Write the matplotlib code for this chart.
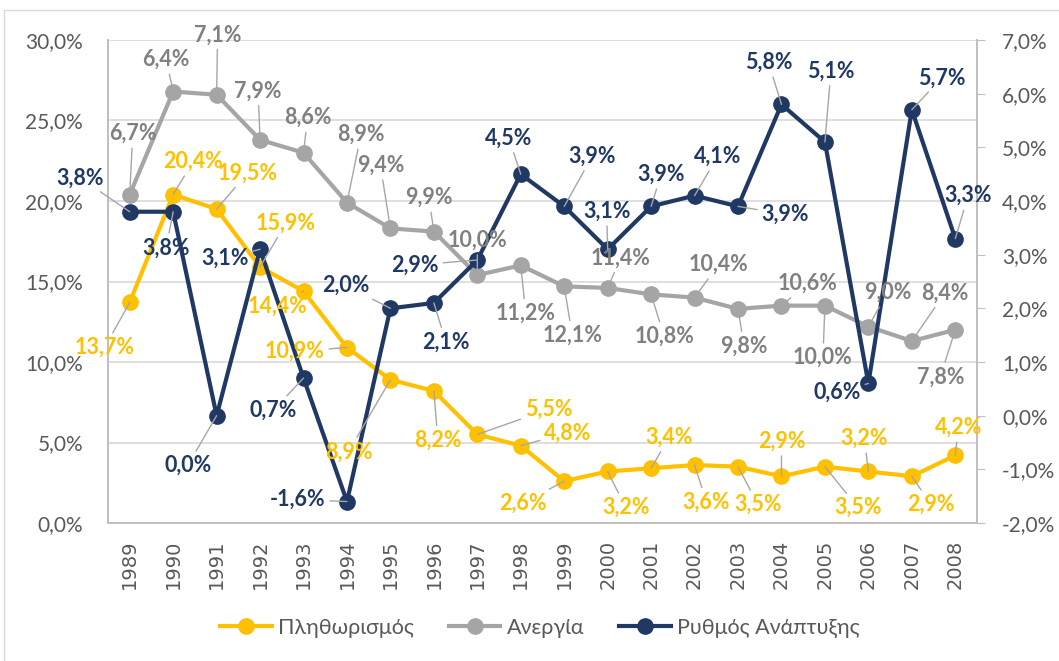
import matplotlib
matplotlib.use('Agg')
import matplotlib.pyplot as plt
from matplotlib.ticker import FuncFormatter, MultipleLocator
from matplotlib.lines import Line2D
from matplotlib.patches import Rectangle

years = [str(y) for y in range(1989, 2009)]
inflation = [13.7, 20.4, 19.5, 15.9, 14.4, 10.9, 8.9, 8.2, 5.5, 4.8,
             2.6, 3.2, 3.4, 3.6, 3.5, 2.9, 3.5, 3.2, 2.9, 4.2]
unemployment = [20.4, 26.8, 26.6, 23.8, 23.0, 19.9, 18.3, 18.1, 15.4, 16.0,
                14.7, 14.6, 14.2, 14.0, 13.3, 13.5, 13.5, 12.2, 11.3, 12.0]
unemployment_labels = ['6,7%', '6,4%', '7,1%', '7,9%', '8,6%', '8,9%', '9,4%', '9,9%',
                       '10,0%', '11,2%', '12,1%', '11,4%', '10,8%', '10,4%', '9,8%',
                       '10,6%', '10,0%', '9,0%', '8,4%', '7,8%']
growth = [3.8, 3.8, 0.0, 3.1, 0.7, -1.6, 2.0, 2.1, 2.9, 4.5,
          3.9, 3.1, 3.9, 4.1, 3.9, 5.8, 5.1, 0.6, 5.7, 3.3]

# label offsets in pixels (dx, dy up) relative to the point
off_unemp = [(3, 61), (-7, 32), (1, 60), (-2, 49), (4, 35), (14, 68), (-10, 63), (-5, 34),
             (0, 35), (5, -48), (8, -49), (13, 30), (13, -42), (24, 33), (6, -37),
             (26, 22), (-2, -52), (19, 34), (33, 48), (-15, -47)]
off_infl = [(-25, -45), (20, 33), (31, 36), (26, 44), (-26, -15), (-52, -4), (-42, -72),
            (4, -49), (71, 25), (47, 13), (-41, -22), (18, -36), (18, 31), (12, -37),
            (20, -38), (0, 35), (33, -41), (-4, 33), (19, -28), (3, 28)]
off_growth = [(-50, 34), (-7, -36), (-29, -50), (-35, -9), (-30, -32), (-49, 2), (-45, 23),
              (12, -39), (-62, -5), (-12, 36), (28, 50), (-1, 38), (10, 32), (23, 39),
              (47, -8), (-13, 42), (6, 71), (-31, -9), (30, 32), (13, 43)]

YELLOW = '#FFC000'
GRAY = '#A5A5A5'
GRAY_TXT = '#808080'
NAVY = '#203864'
AXTXT = '#595959'

plt.rcParams['font.family'] = ['Lato', 'DejaVu Sans']

fig = plt.figure(figsize=(10.59, 6.61), dpi=100)
ax1 = fig.add_axes([108 / 1059, 1 - 523 / 661, 869 / 1059, 483 / 661])
ax2 = ax1.twinx()

fig.patches.append(Rectangle((4 / 1059, -0.1), 1.2, 1 - 10 / 661 + 0.1, transform=fig.transFigure,
                             fill=False, edgecolor='#d9d9d9', lw=1))

x = list(range(len(years)))
ax1.plot(x, unemployment, color=GRAY, lw=3, marker='o', ms=11, zorder=3)
ax1.plot(x, inflation, color=YELLOW, lw=3, marker='o', ms=11, zorder=4)
ax2.plot(x, growth, color=NAVY, lw=3, marker='o', ms=11, zorder=5)

ax1.set_xlim(-0.5, len(years) - 0.5)
ax1.set_ylim(0, 30)
ax2.set_ylim(-2, 7)
ax1.yaxis.set_major_locator(MultipleLocator(5))
ax2.yaxis.set_major_locator(MultipleLocator(1))
fmt = FuncFormatter(lambda v, p: f"{v:.1f}%".replace('.', ','))
ax1.yaxis.set_major_formatter(fmt)
ax2.yaxis.set_major_formatter(fmt)
ax1.grid(axis='y', color='#d9d9d9', lw=1.2)
ax1.set_axisbelow(True)
ax1.set_xticks(x)
ax1.set_xticklabels(years, rotation=90, fontsize=14, color=AXTXT, family='DejaVu Sans')
ax1.tick_params(axis='x', length=0, pad=12)
ax1.tick_params(axis='y', length=0, labelsize=15, labelcolor=AXTXT, pad=18)
ax2.tick_params(axis='y', length=6, color='#bfbfbf', labelsize=15, labelcolor=AXTXT, pad=12)
for ax in (ax1, ax2):
    ax.spines['top'].set_visible(False)
    for s in ('left', 'right', 'bottom'):
        ax.spines[s].set_color('#bfbfbf')
        ax.spines[s].set_linewidth(1.2)


def label(xy_trans, xs, ys, texts, offs, color):
    for xi, yi, t, (dx, dy) in zip(xs, ys, texts, offs):
        ax2.annotate(t, xy=(xi, yi), xycoords=xy_trans, xytext=(dx, dy),
                     textcoords='offset pixels', ha='center', va='center',
                     fontsize=15.5, fontweight='bold', color=color, zorder=6,
                     annotation_clip=False,
                     arrowprops=dict(arrowstyle='-', color='#a6a6a6', lw=1,
                                     shrinkA=1, shrinkB=0))


pct = lambda v: f"{v:.1f}%".replace('.', ',')
label(ax1.transData, x, unemployment, unemployment_labels, off_unemp, GRAY_TXT)
label(ax1.transData, x, inflation, [pct(v) for v in inflation], off_infl, YELLOW)
label(ax2.transData, x, growth, [pct(v) for v in growth], off_growth, NAVY)

handles = [Line2D([], [], color=c, lw=3, marker='o', ms=11) for c in (YELLOW, GRAY, NAVY)]
fig.legend(handles, ['Πληθωρισμός', 'Ανεργία', 'Ρυθμός Ανάπτυξης'], loc='center',
           bbox_to_anchor=(540 / 1059, 1 - 628 / 661), ncol=3, frameon=False,
           fontsize=15.5, labelcolor=AXTXT, handlelength=2.4, columnspacing=1.6,
           handletextpad=0.3)

fig.savefig('out.png', dpi=100)
